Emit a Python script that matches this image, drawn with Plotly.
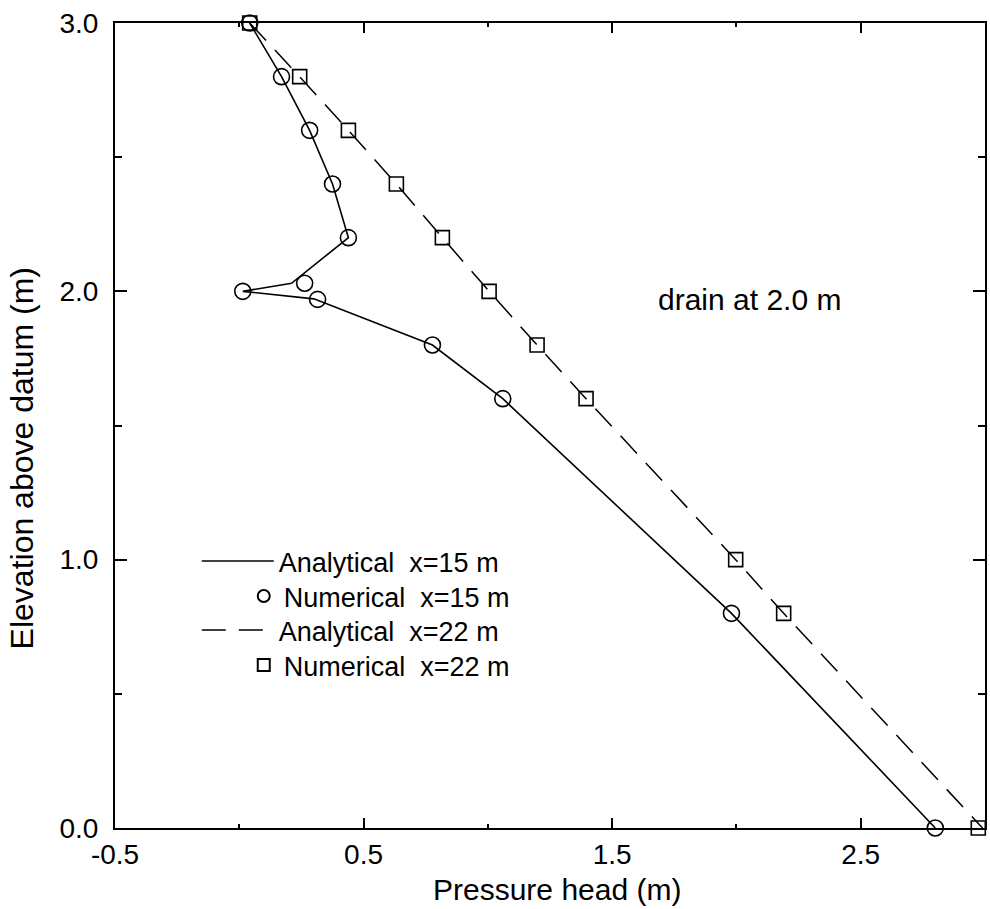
import plotly.graph_objects as go

# Numerical x=15 m (circles)
num15_p = [0.042, 0.17, 0.283, 0.375, 0.439, 0.263, 0.014, 0.315, 0.777, 1.06, 1.98, 2.80]
num15_z = [3.0, 2.8, 2.6, 2.4, 2.2, 2.03, 2.0, 1.97, 1.8, 1.6, 0.8, 0.0]
# Analytical x=15 m (solid line)
ana15_p = [0.042, 0.17, 0.283, 0.375, 0.439, 0.21, 0.014, 0.30, 0.777, 1.06, 1.98, 2.80]
ana15_z = [3.0, 2.8, 2.6, 2.4, 2.2, 2.03, 2.0, 1.972, 1.8, 1.6, 0.8, 0.0]
# Numerical x=22 m (squares)
num22_p = [0.042, 0.243, 0.439, 0.632, 0.817, 1.005, 1.198, 1.395, 1.997, 2.19, 2.973]
num22_z = [3.0, 2.8, 2.6, 2.4, 2.2, 2.0, 1.8, 1.6, 1.0, 0.8, 0.0]
# Analytical x=22 m (dashed line)
ana22_p = [0.042, 0.243, 0.439, 0.632, 0.817, 1.005, 1.198, 1.395, 1.997, 2.19, 2.99]
ana22_z = [3.0, 2.8, 2.6, 2.4, 2.2, 2.0, 1.8, 1.6, 1.0, 0.8, 0.0]

x_ticks = [-0.5, 0.5, 1.5, 2.5]
y_ticks = [0.0, 1.0, 2.0, 3.0]

FONT = "Liberation Sans, Arial, Helvetica, sans-serif"

fig = go.Figure()
fig.add_trace(go.Scatter(x=ana15_p, y=ana15_z, mode="lines", name="Analytical  x=15 m",
                         line=dict(color="black", width=1.6), cliponaxis=False, legend="legend"))
fig.add_trace(go.Scatter(x=num15_p, y=num15_z, mode="markers", name="Numerical  x=15 m",
                         marker=dict(symbol="circle-open", size=16, color="black", line=dict(width=1.6)),
                         cliponaxis=False, legend="legend2"))
fig.add_trace(go.Scatter(x=ana22_p, y=ana22_z, mode="lines", name="Analytical  x=22 m",
                         line=dict(color="black", width=1.5, dash="24px,13px"), cliponaxis=False, legend="legend3"))
fig.add_trace(go.Scatter(x=num22_p, y=num22_z, mode="markers", name="Numerical  x=22 m",
                         marker=dict(symbol="square-open", size=14, color="black", line=dict(width=1.6)),
                         cliponaxis=False, legend="legend4"))

fig.add_annotation(x=2.053, y=1.97, xref="x", yref="y", text="drain at 2.0 m", showarrow=False,
                   font=dict(size=30, color="black", family=FONT), xanchor="center", yanchor="middle")
fig.add_annotation(x=0.508, y=-0.077, xref="paper", yref="paper", text="Pressure head (m)", showarrow=False,
                   font=dict(size=30, color="black", family=FONT), xanchor="center", yanchor="middle")
fig.add_annotation(x=-0.107, y=0.459, xref="paper", yref="paper", text="Elevation above datum (m)", showarrow=False,
                   textangle=-90, font=dict(size=32, color="black", family=FONT), xanchor="center", yanchor="middle")

leg_common = dict(xanchor="left", yanchor="top", bgcolor="rgba(0,0,0,0)",
                  font=dict(size=27, family=FONT, color="black"))

fig.update_layout(
    width=990, height=909,
    margin=dict(l=115, r=3, t=23, b=81),
    paper_bgcolor="white", plot_bgcolor="white",
    font=dict(family=FONT, color="black", size=28),
    showlegend=True,
    legend=dict(x=0.094, y=0.3615, itemwidth=72, **leg_common),
    legend2=dict(x=0.148, y=0.318, itemwidth=30, itemsizing="constant", **leg_common),
    legend3=dict(x=0.094, y=0.2758, itemwidth=72, **leg_common),
    legend4=dict(x=0.148, y=0.2323, itemwidth=30, itemsizing="constant", **leg_common),
    xaxis=dict(range=[-0.5, 3.0], tickvals=x_ticks, ticktext=[f"{v:.1f}" for v in x_ticks],
               ticks="inside", ticklen=10, tickwidth=1.5, tickcolor="black",
               showline=True, linecolor="black", linewidth=2, mirror="ticks",
               showgrid=False, zeroline=False, ticklabelstandoff=0,
               minor=dict(tickvals=[0.0, 1.0, 2.0, 3.0], ticks="inside", ticklen=4, tickcolor="black", tickwidth=1.5, showgrid=False),
               tickfont=dict(size=28)),
    yaxis=dict(range=[0.0, 3.0], tickvals=y_ticks, ticktext=[f"{v:.1f}" for v in y_ticks],
               ticks="inside", ticklen=12, tickwidth=1.5, tickcolor="black",
               showline=True, linecolor="black", linewidth=2, mirror="ticks",
               showgrid=False, zeroline=False, ticklabelstandoff=9,
               minor=dict(tickvals=[0.5, 1.5, 2.5], ticks="inside", ticklen=7, tickcolor="black", tickwidth=1.5, showgrid=False),
               tickfont=dict(size=28)),
)

fig.write_html("out.html")
